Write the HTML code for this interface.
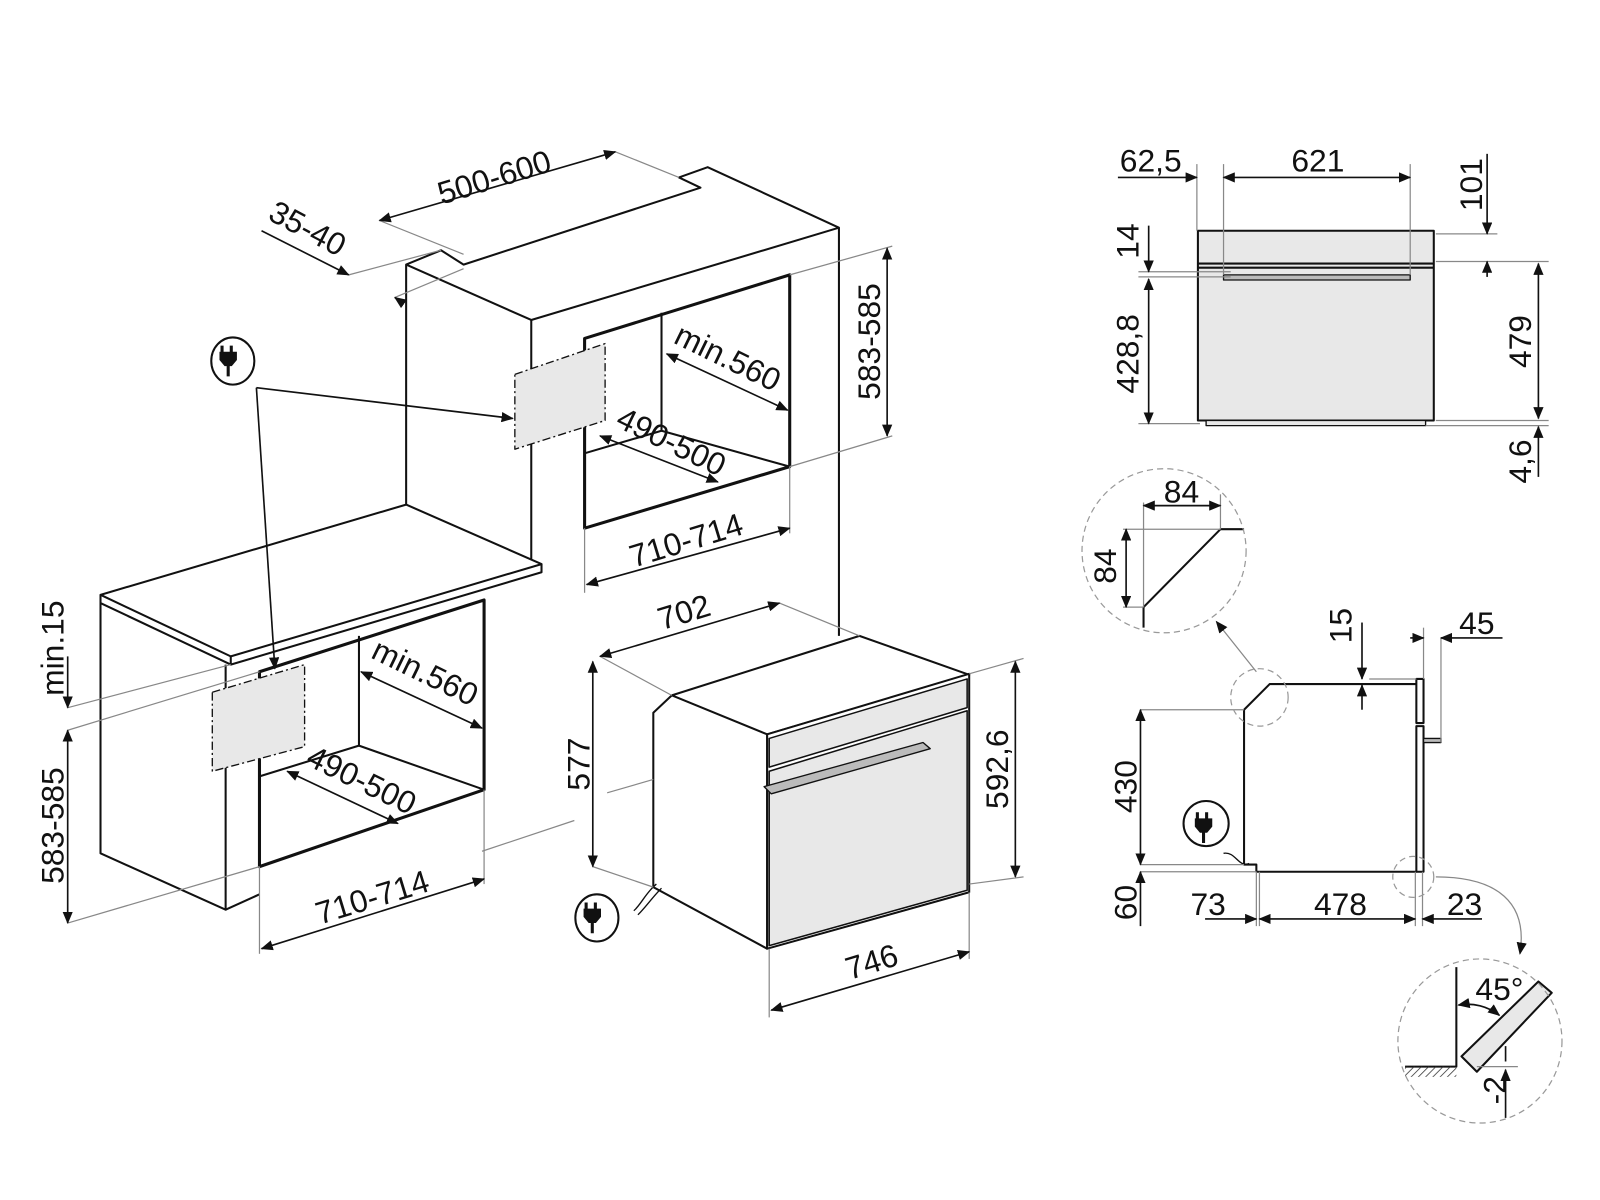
<!DOCTYPE html>
<html><head><meta charset="utf-8"><style>
html,body{margin:0;padding:0;background:#fff}
svg{display:block}
text{font-family:"Liberation Sans",sans-serif;font-size:31px;fill:#111}
</style></head><body>
<svg width="1600" height="1200" viewBox="0 0 1600 1200" xmlns="http://www.w3.org/2000/svg">
<defs>
<marker id="a" markerWidth="12" markerHeight="10" refX="11" refY="5" orient="auto-start-reverse" markerUnits="userSpaceOnUse"><path d="M0,0 L12,5 L0,10 z" fill="#111"/></marker>
<pattern id="h" width="5" height="5" patternUnits="userSpaceOnUse" patternTransform="rotate(45)"><line x1="0" y1="0" x2="0" y2="5" stroke="#333" stroke-width="1.5"/></pattern>
</defs>
<g transform="scale(1.0256)">
<g fill="none" stroke="#111" stroke-width="2" stroke-linejoin="round">
<polyline points="396,492 396,258 430,244 452,258 683,183 662,173 690,163 818,222 818,620"/>
<polyline points="396,258 518,312 818,222"/>
<line x1="518" y1="312" x2="518" y2="550"/>
<polygon points="570,330 770,268 770,455 570,515" stroke-width="3"/>
<polyline points="645,305 645,420 770,455"/>
<line x1="645" y1="420" x2="570" y2="442"/>
<polygon points="502,365 590,335 590,410 502,438" fill="#e8e8e8" stroke-width="1.3" stroke-dasharray="8,3,2,3"/>
<polygon points="98,580 396,492 528,550 225,640" fill="#fff"/>
<polyline points="98,580 98,588 225,648 528,558 528,550"/>
<line x1="225" y1="640" x2="225" y2="648"/>
<polyline points="98,588 98,832 220,887 220,648"/>
<line x1="220" y1="887" x2="253" y2="872"/>
<polygon points="253,655 472,585 472,770 253,845" stroke-width="3"/>
<polyline points="350,620 350,727 472,770"/>
<line x1="350" y1="727" x2="253" y2="757"/>
<polygon points="207,675 297,648 297,728 207,752" fill="#e8e8e8" stroke-width="1.3" stroke-dasharray="8,3,2,3"/>
<polygon points="637,695 655,678 838,620 945,658 748,716 748,925 637,865" fill="#fff"/>
<line x1="655" y1="678" x2="748" y2="716"/>
<polygon points="748,716 945,657 945,870 748,925" fill="#fff"/>
<polygon points="750,752 943,693 943,868 750,922" fill="#e8e8e8" stroke-width="1.5"/>
<polygon points="750,720 943,662 943,690 750,748" fill="#e8e8e8" stroke-width="1.5"/>
<polygon points="745,767 900,724 907,730 752,774" fill="#bbb" stroke-width="1.3"/>
<path d="M640,862 C630,870 625,882 618,888" stroke-width="1.3"/>
<path d="M645,866 C636,875 630,884 622,892" stroke-width="1.3"/>
<rect x="1168" y="225" width="230" height="185" fill="#e8e8e8"/>
<line x1="1168" y1="257" x2="1398" y2="257"/>
<line x1="1168" y1="261" x2="1398" y2="261"/>
<rect x="1193" y="268" width="182" height="5" fill="#bbb" stroke-width="1.3"/>
<rect x="1176" y="410" width="214" height="5" fill="#e8e8e8" stroke-width="1.3"/>
<polyline points="1381,667 1238,667 1213,692 1213,843 1225,843 1225,850 1381,850"/>
<rect x="1381" y="662" width="7" height="43" fill="#fff"/>
<rect x="1381" y="708" width="7" height="142" fill="#fff"/>
<rect x="1388" y="720" width="17" height="4" fill="#bbb" stroke-width="1.3"/>
<path d="M1193,832 C1205,830 1207,846 1218,842" stroke-width="1.3"/>
<polyline points="1213,516 1190,516 1115,592 1115,612"/>
<polyline points="1420,943 1420,1030 1420,1040 1370,1040"/>
<rect x="1370" y="1040" width="50" height="10" fill="url(#h)" stroke="none"/>
<polygon points="1425,1030 1500,957 1513,968 1440,1045" fill="#e8e8e8"/>
</g>
<g stroke="#888" stroke-width="1.2" fill="none">
<line x1="600" y1="148" x2="662" y2="173"/><line x1="370" y1="215" x2="452" y2="248"/>
<line x1="340" y1="268" x2="430" y2="244"/><line x1="385" y1="290" x2="452" y2="262"/>
<line x1="770" y1="268" x2="870" y2="240"/><line x1="770" y1="455" x2="870" y2="425"/>
<line x1="570" y1="515" x2="570" y2="578"/><line x1="770" y1="455" x2="770" y2="520"/>
<line x1="66" y1="690" x2="225" y2="648"/><line x1="66" y1="712" x2="253" y2="655"/>
<line x1="66" y1="900" x2="253" y2="845"/>
<line x1="253" y1="845" x2="253" y2="930"/><line x1="472" y1="770" x2="472" y2="862"/>
<line x1="470" y1="830" x2="560" y2="800"/><line x1="592" y1="773" x2="637" y2="760"/>
<line x1="585" y1="640" x2="655" y2="678"/><line x1="760" y1="588" x2="838" y2="620"/>
<line x1="578" y1="845" x2="637" y2="865"/>
<line x1="945" y1="657" x2="998" y2="642"/><line x1="945" y1="862" x2="998" y2="855"/>
<line x1="750" y1="925" x2="750" y2="992"/><line x1="945" y1="870" x2="945" y2="935"/>
<line x1="1167" y1="160" x2="1167" y2="225"/><line x1="1193" y1="160" x2="1193" y2="268"/><line x1="1375" y1="160" x2="1375" y2="268"/>
<line x1="1400" y1="228" x2="1460" y2="228"/><line x1="1400" y1="255" x2="1510" y2="255"/>
<line x1="1400" y1="410" x2="1510" y2="410"/><line x1="1390" y1="415" x2="1510" y2="415"/>
<line x1="1110" y1="265" x2="1200" y2="265"/><line x1="1110" y1="270" x2="1200" y2="270"/><line x1="1110" y1="413" x2="1170" y2="413"/>
<line x1="1095" y1="516" x2="1190" y2="516"/><line x1="1095" y1="592" x2="1115" y2="592"/>
<line x1="1115" y1="490" x2="1115" y2="592"/><line x1="1190" y1="482" x2="1190" y2="516"/>
<line x1="1112" y1="692" x2="1213" y2="692"/><line x1="1112" y1="843" x2="1213" y2="843"/><line x1="1112" y1="850" x2="1225" y2="850"/>
<line x1="1335" y1="662" x2="1381" y2="662"/>
<line x1="1388" y1="612" x2="1388" y2="662"/><line x1="1405" y1="622" x2="1405" y2="724"/>
<line x1="1228" y1="850" x2="1228" y2="903"/><line x1="1225" y1="850" x2="1225" y2="903"/>
<line x1="1380" y1="850" x2="1380" y2="903"/><line x1="1387" y1="850" x2="1387" y2="903"/>
<line x1="1440" y1="1040" x2="1480" y2="1040"/>
<line x1="1225" y1="655" x2="1186" y2="606" marker-end="url(#a)"/>
<path d="M1400,855 C1460,855 1490,880 1482,930" marker-end="url(#a)"/>
</g>
<g stroke="#999" stroke-width="1.2" fill="none" stroke-dasharray="6,4">
<circle cx="1135" cy="537" r="80"/><circle cx="1443" cy="1015" r="80"/>
<circle cx="1228" cy="680" r="28"/><circle cx="1378" cy="855" r="20"/>
</g>
<g stroke="#111" stroke-width="1.6" fill="none">
<line x1="370" y1="215" x2="600" y2="148" marker-start="url(#a)" marker-end="url(#a)"/>
<line x1="255" y1="225" x2="340" y2="268" marker-end="url(#a)"/>
<line x1="392" y1="295" x2="385" y2="290" marker-end="url(#a)"/>
<line x1="865" y1="242" x2="865" y2="425" marker-start="url(#a)" marker-end="url(#a)"/>
<line x1="650" y1="345" x2="768" y2="400" marker-start="url(#a)" marker-end="url(#a)"/>
<line x1="585" y1="425" x2="700" y2="470" marker-start="url(#a)" marker-end="url(#a)"/>
<line x1="572" y1="570" x2="770" y2="515" marker-start="url(#a)" marker-end="url(#a)"/>
<line x1="250" y1="378" x2="500" y2="408" marker-end="url(#a)"/>
<line x1="250" y1="378" x2="268" y2="652" marker-end="url(#a)"/>
<line x1="66" y1="640" x2="66" y2="690" marker-end="url(#a)"/>
<line x1="66" y1="712" x2="66" y2="900" marker-start="url(#a)" marker-end="url(#a)"/>
<line x1="352" y1="655" x2="470" y2="710" marker-start="url(#a)" marker-end="url(#a)"/>
<line x1="280" y1="752" x2="388" y2="803" marker-start="url(#a)" marker-end="url(#a)"/>
<line x1="255" y1="925" x2="472" y2="857" marker-start="url(#a)" marker-end="url(#a)"/>
<line x1="585" y1="640" x2="760" y2="588" marker-start="url(#a)" marker-end="url(#a)"/>
<line x1="578" y1="645" x2="578" y2="845" marker-start="url(#a)" marker-end="url(#a)"/>
<line x1="990" y1="645" x2="990" y2="855" marker-start="url(#a)" marker-end="url(#a)"/>
<line x1="752" y1="985" x2="945" y2="928" marker-start="url(#a)" marker-end="url(#a)"/>
<line x1="1090" y1="173" x2="1167" y2="173" marker-end="url(#a)"/>
<line x1="1193" y1="173" x2="1375" y2="173" marker-start="url(#a)" marker-end="url(#a)"/>
<line x1="1450" y1="150" x2="1450" y2="228" marker-end="url(#a)"/>
<line x1="1450" y1="270" x2="1450" y2="255" marker-end="url(#a)"/>
<line x1="1500" y1="257" x2="1500" y2="408" marker-start="url(#a)" marker-end="url(#a)"/>
<line x1="1500" y1="465" x2="1500" y2="416" marker-end="url(#a)"/>
<line x1="1120" y1="220" x2="1120" y2="265" marker-end="url(#a)"/>
<line x1="1120" y1="272" x2="1120" y2="413" marker-start="url(#a)" marker-end="url(#a)"/>
<line x1="1115" y1="493" x2="1190" y2="493" marker-start="url(#a)" marker-end="url(#a)"/>
<line x1="1098" y1="516" x2="1098" y2="592" marker-start="url(#a)" marker-end="url(#a)"/>
<line x1="1328" y1="607" x2="1328" y2="662" marker-end="url(#a)"/>
<line x1="1328" y1="692" x2="1328" y2="668" marker-end="url(#a)"/>
<line x1="1375" y1="622" x2="1388" y2="622" marker-end="url(#a)"/>
<line x1="1465" y1="622" x2="1405" y2="622" marker-end="url(#a)"/>
<line x1="1112" y1="692" x2="1112" y2="843" marker-start="url(#a)" marker-end="url(#a)"/>
<line x1="1112" y1="903" x2="1112" y2="850" marker-end="url(#a)"/>
<line x1="1175" y1="896" x2="1225" y2="896" marker-end="url(#a)"/>
<line x1="1228" y1="896" x2="1380" y2="896" marker-start="url(#a)" marker-end="url(#a)"/>
<line x1="1445" y1="896" x2="1387" y2="896" marker-end="url(#a)"/>
<path d="M1422,980 A50,50 0 0 1 1462,990" marker-start="url(#a)" marker-end="url(#a)"/>
<line x1="1468" y1="1090" x2="1468" y2="1043" marker-end="url(#a)"/>
<line x1="1468" y1="1020" x2="1468" y2="1035"/>
</g>
<g>
<ellipse cx="227" cy="352" rx="21" ry="23" fill="#fff" stroke="#111" stroke-width="2"/>
<ellipse cx="582" cy="895" rx="21" ry="23" fill="#fff" stroke="#111" stroke-width="2"/>
<circle cx="1176" cy="803" r="22" fill="#fff" stroke="#111" stroke-width="2"/>
<g fill="#111">
<path d="M221,340h3v6h6v-6h3v6h4v8l-5,6h-2v10h-3v-10h-2l-5,-6v-8h1z" transform="translate(-6,-3)"/>
<path d="M221,340h3v6h6v-6h3v6h4v8l-5,6h-2v10h-3v-10h-2l-5,-6v-8h1z" transform="translate(349,540)"/>
<path d="M221,340h3v6h6v-6h3v6h4v8l-5,6h-2v10h-3v-10h-2l-5,-6v-8h1z" transform="translate(945,452)"/>
</g>
</g>
<text transform="translate(485,183) rotate(-17)" text-anchor="middle">500-600</text>
<text transform="translate(295,232) rotate(28)" text-anchor="middle">35-40</text>
<text transform="translate(858,333) rotate(-90)" text-anchor="middle">583-585</text>
<text transform="translate(705,358) rotate(26)" text-anchor="middle">min.560</text>
<text transform="translate(650,440) rotate(26)" text-anchor="middle">490-500</text>
<text transform="translate(672,537) rotate(-17)" text-anchor="middle">710-714</text>
<text transform="translate(62,632) rotate(-90)" text-anchor="middle">min.15</text>
<text transform="translate(62,805) rotate(-90)" text-anchor="middle">583-585</text>
<text transform="translate(410,665) rotate(26)" text-anchor="middle">min.560</text>
<text transform="translate(348,770) rotate(26)" text-anchor="middle">490-500</text>
<text transform="translate(366,885) rotate(-17)" text-anchor="middle">710-714</text>
<text transform="translate(670,607) rotate(-17)" text-anchor="middle">702</text>
<text transform="translate(575,745) rotate(-90)" text-anchor="middle">577</text>
<text transform="translate(983,750) rotate(-90)" text-anchor="middle">592,6</text>
<text transform="translate(853,948) rotate(-17)" text-anchor="middle">746</text>
<text x="1122" y="167" text-anchor="middle">62,5</text>
<text x="1285" y="167" text-anchor="middle">621</text>
<text transform="translate(1445,180) rotate(-90)" text-anchor="middle">101</text>
<text transform="translate(1493,333) rotate(-90)" text-anchor="middle">479</text>
<text transform="translate(1493,450) rotate(-90)" text-anchor="middle">4,6</text>
<text transform="translate(1110,235) rotate(-90)" text-anchor="middle">14</text>
<text transform="translate(1110,345) rotate(-90)" text-anchor="middle">428,8</text>
<text x="1152" y="490" text-anchor="middle">84</text>
<text transform="translate(1088,552) rotate(-90)" text-anchor="middle">84</text>
<text transform="translate(1318,610) rotate(-90)" text-anchor="middle">15</text>
<text x="1440" y="618" text-anchor="middle">45</text>
<text transform="translate(1108,767) rotate(-90)" text-anchor="middle">430</text>
<text transform="translate(1108,880) rotate(-90)" text-anchor="middle">60</text>
<text x="1178" y="892" text-anchor="middle">73</text>
<text x="1307" y="892" text-anchor="middle">478</text>
<text x="1428" y="892" text-anchor="middle">23</text>
<text x="1462" y="975" text-anchor="middle">45°</text>
<text transform="translate(1468,1063) rotate(-90)" text-anchor="middle">-2</text>
</g>
</svg>
</body></html>
